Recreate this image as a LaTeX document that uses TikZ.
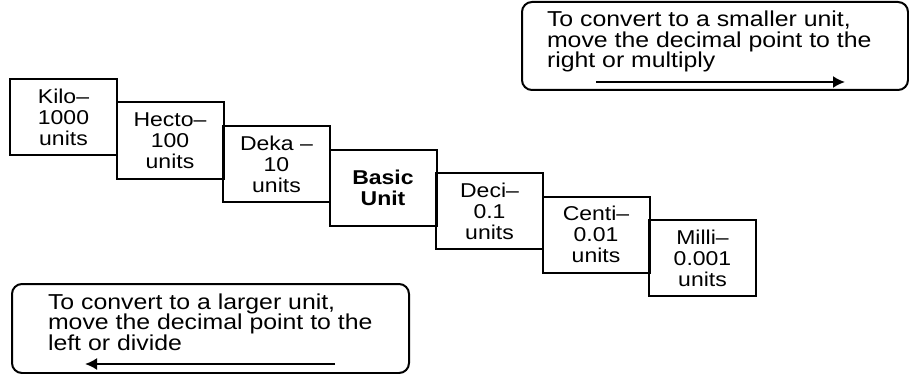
\documentclass[tikz,border=0pt]{standalone}
\usepackage{fontspec}
\setmainfont{Liberation Sans}[FakeStretch=1.15]
\usetikzlibrary{arrows.meta,positioning}
\tikzset{
    unitbox/.style ={rectangle, draw, minimum width=53.5pt, minimum height=38pt, inner sep=0pt, align=center, font=\fontsize{10}{10.5}\selectfont},
    basebox/.style ={unitbox, font=\fontsize{10}{10.5}\selectfont\bfseries},
    next/.style = {right=-1.25pt of #1, yshift=-11.75pt},
    callout/.style ={rectangle, draw, rounded corners=5pt, inner sep=0pt},
    note/.style = {inner sep=0pt, align=left, anchor=north west, font=\fontsize{10.8}{10.3}\selectfont},
    toarrow/.style = {-{Latex[length=6pt,width=6pt]}}
}
\begin{document}
\begin{tikzpicture}[x=0.5pt,y=-0.5pt,line width=1pt]
        \useasboundingbox (0,0) rectangle (909,374);

        \node[unitbox] (kilo) at (63.5,117) {Kilo--\\1000\\units};
        \node[unitbox, next=kilo] (hecto) {Hecto--\\100\\units};
        \node[unitbox, next=hecto] (deka) {Deka --\\10\\units};
        \node[basebox, next=deka] (basic) {Basic\\Unit};
        \node[unitbox, next=basic] (deci) {Deci--\\0.1\\units};
        \node[unitbox, next=deci] (centi) {Centi--\\0.01\\units};
        \node[unitbox, next=centi] (milli) {Milli--\\0.001\\units};

        \node[callout, minimum width=193pt, minimum height=44pt] (smaller) at (715,46) {};
        \node[note] (smallertext) at (546,10) {To convert to a smaller unit,\\move the decimal point to the\\right or multiply};
        \coordinate (smallerfrom) at (596,82);
        \coordinate (smallerto) at (845,82);
        \draw[toarrow] (smallerfrom) -- (smallerto);

        \node[callout, minimum width=198.5pt, minimum height=44.5pt] (larger) at (210.5,328.5) {};
        \node[note] (largertext) at (47,292.5) {To convert to a larger unit,\\move the decimal point to the\\left or divide};
        \coordinate (largerfrom) at (335,364);
        \coordinate (largerto) at (85,364);
        \draw[toarrow] (largerfrom) -- (largerto);
      \end{tikzpicture}
\end{document}
